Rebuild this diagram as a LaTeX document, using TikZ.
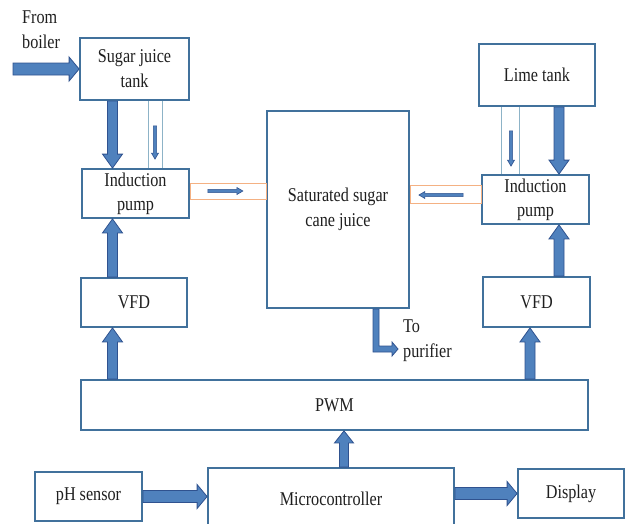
\documentclass[tikz,border=0pt]{standalone}
\usepackage{fontspec}
\setmainfont{Liberation Serif}[FakeStretch=0.83]
\usepackage{xcolor}
\usetikzlibrary{calc}
\definecolor{boxblue}{HTML}{41719C}
\definecolor{arrowfill}{HTML}{4F81BD}
\definecolor{arrowline}{HTML}{2F528F}
\definecolor{pipeline}{HTML}{8DB3C7}
\definecolor{linkline}{HTML}{F4B183}
\definecolor{textgray}{HTML}{1F1F1F}

% block arrow: [style]{from}{to}{half shaft}{half head}{head length}
\newcommand{\blockarrow}[6][bigarrow]{%
  \coordinate (ba-s) at (#2);
  \coordinate (ba-e) at (#3);
  \coordinate (ba-n) at ($(ba-e)!#6!(ba-s)$);
  \draw[#1] ($(ba-s)!#4!90:(ba-e)$) -- ($(ba-n)!#4!90:(ba-e)$) -- ($(ba-n)!#5!90:(ba-e)$) -- (ba-e)
    -- ($(ba-n)!#5!-90:(ba-e)$) -- ($(ba-n)!#4!-90:(ba-e)$) -- ($(ba-s)!#4!-90:(ba-e)$) -- cycle;}

\begin{document}
\begin{tikzpicture}[x=1pt,y=-1pt,
    block/.style={draw=boxblue, line width=1.8pt, fill=white, align=center, inner sep=0pt,
      text=textgray, font=\fontsize{19.5}{25}\selectfont},
    caption/.style={align=left, inner sep=0pt, text=textgray, font=\fontsize{19.5}{25}\selectfont},
    bigarrow/.style={fill=arrowfill, draw=arrowline, line width=0.8pt},
    smallarrow/.style={fill=arrowfill, draw=arrowline, line width=0.6pt},
    pipe/.style={draw=pipeline, line width=0.8pt},
    link/.style={draw=linkline, line width=0.8pt}]
    \useasboundingbox (0,0) rectangle (626,523);

    \node[block, minimum width=109pt, minimum height=62pt] (sjt) at (134.5,69) {Sugar juice\\tank};
    \node[block, minimum width=107pt, minimum height=49pt] (pumpL) at (135.5,193.5) {Induction\\[-1pt]pump};
    \node[block, minimum width=142pt, minimum height=197pt] (sat) at (338,209.5) {Saturated sugar\\cane juice};
    \node[block, minimum width=116pt, minimum height=62pt] (lime) at (537,75) {Lime tank};
    \node[block, minimum width=107pt, minimum height=49pt] (pumpR) at (535.5,199.5) {Induction\\[-1pt]pump};
    \node[block, minimum width=106pt, minimum height=49pt] (vfdL) at (134,302.5) {VFD};
    \node[block, minimum width=107pt, minimum height=50pt] (vfdR) at (536.5,302) {VFD};
    \node[block, minimum width=507pt, minimum height=50pt] (pwm) at (334.5,405) {PWM};
    \node[block, minimum width=107pt, minimum height=49pt] (ph) at (88.5,496.5) {pH sensor};
    \node[block, minimum width=246pt, minimum height=64pt] (mcu) at (331,500) {\raisebox{3pt}{Microcontroller}};
    \node[block, minimum width=106pt, minimum height=49pt] (disp) at (571,493.5) {Display};

    \node[caption, anchor=west] (from) at (22,29.5) {From\\boiler};
    \node[caption, anchor=west] (topur) at (403,341) {To\\purifier};

    \coordinate (boiler) at (13,69);
    \coordinate (colL) at (112.5,0);
    \coordinate (colR) at (559,0);
    \coordinate (colRlow) at (530,0);
    \coordinate (colM) at (344,0);
    \coordinate (pipeLa) at (148,0);
    \coordinate (pipeLb) at (162,0);
    \coordinate (flowL) at (155,0);
    \coordinate (pipeRa) at (501,0);
    \coordinate (pipeRb) at (519,0);
    \coordinate (flowR) at (511,0);
    \coordinate (colP) at (376,0);
    \coordinate (purif) at (398,349);

    % pipes between tanks and pumps
    \draw[pipe] (sjt.south -| pipeLa) -- (pumpL.north -| pipeLa);
    \draw[pipe] (sjt.south -| pipeLb) -- (pumpL.north -| pipeLb);
    \draw[pipe] (lime.south -| pipeRa) -- (pumpR.north -| pipeRa);
    \draw[pipe] (lime.south -| pipeRb) -- (pumpR.north -| pipeRb);
    \draw[link] ($(pumpL.east)+(0,-10.5)$) rectangle ($(sat.west |- pumpL.east)+(0,5.5)$);
    \draw[link] ($(sat.east |- pumpR.west)+(0,-14.5)$) rectangle ($(pumpR.west)+(0,3.5)$);

    \blockarrow[smallarrow]{$(sjt.south -| flowL)+(0,25)$}{$(pumpL.north -| flowL)+(0,-9)$}{1.6pt}{3.5pt}{6pt}
    \blockarrow[smallarrow]{$(lime.south -| flowR)+(0,24)$}{$(pumpR.north -| flowR)+(0,-8)$}{1.6pt}{3.5pt}{6pt}
    \blockarrow[smallarrow]{$(pumpL.east)+(18,-2.5)$}{$(pumpL.east)+(53,-2.5)$}{1.6pt}{3.5pt}{6pt}
    \blockarrow[smallarrow]{$(pumpR.west)+(-18,-4.5)$}{$(sat.east |- pumpR.west)+(9,-4.5)$}{1.6pt}{3.5pt}{6pt}

    % main flow arrows
    \blockarrow{boiler}{sjt.west}{6pt}{12pt}{10pt}
    \blockarrow{sjt.south -| colL}{pumpL.north -| colL}{5pt}{10pt}{14pt}
    \blockarrow{vfdL.north -| colL}{pumpL.south -| colL}{5pt}{10pt}{14pt}
    \blockarrow{pwm.north -| colL}{vfdL.south -| colL}{5pt}{10pt}{14pt}
    \blockarrow{lime.south -| colR}{pumpR.north -| colR}{5pt}{10pt}{14pt}
    \blockarrow{vfdR.north -| colR}{pumpR.south -| colR}{5pt}{10pt}{14pt}
    \blockarrow{pwm.north -| colRlow}{vfdR.south -| colRlow}{5pt}{10pt}{14pt}
    \blockarrow{mcu.north -| colM}{pwm.south -| colM}{4.5pt}{9.5pt}{12pt}
    \blockarrow{ph.east}{ph.east -| mcu.west}{6pt}{12pt}{10pt}
    \blockarrow{mcu.east |- disp.west}{disp.west}{6pt}{12pt}{10pt}

    % outlet to purifier
    \draw[bigarrow] ($(sat.south -| colP)+(-3,0)$) -- ($(colP |- purif)+(-3,3)$) -- ($(purif)+(-6,3)$)
      -- ($(purif)+(-6,7)$) -- (purif) -- ($(purif)+(-6,-7)$) -- ($(purif)+(-6,-3)$)
      -- ($(colP |- purif)+(3,-3)$) -- ($(sat.south -| colP)+(3,0)$) -- cycle;
\end{tikzpicture}
\end{document}
